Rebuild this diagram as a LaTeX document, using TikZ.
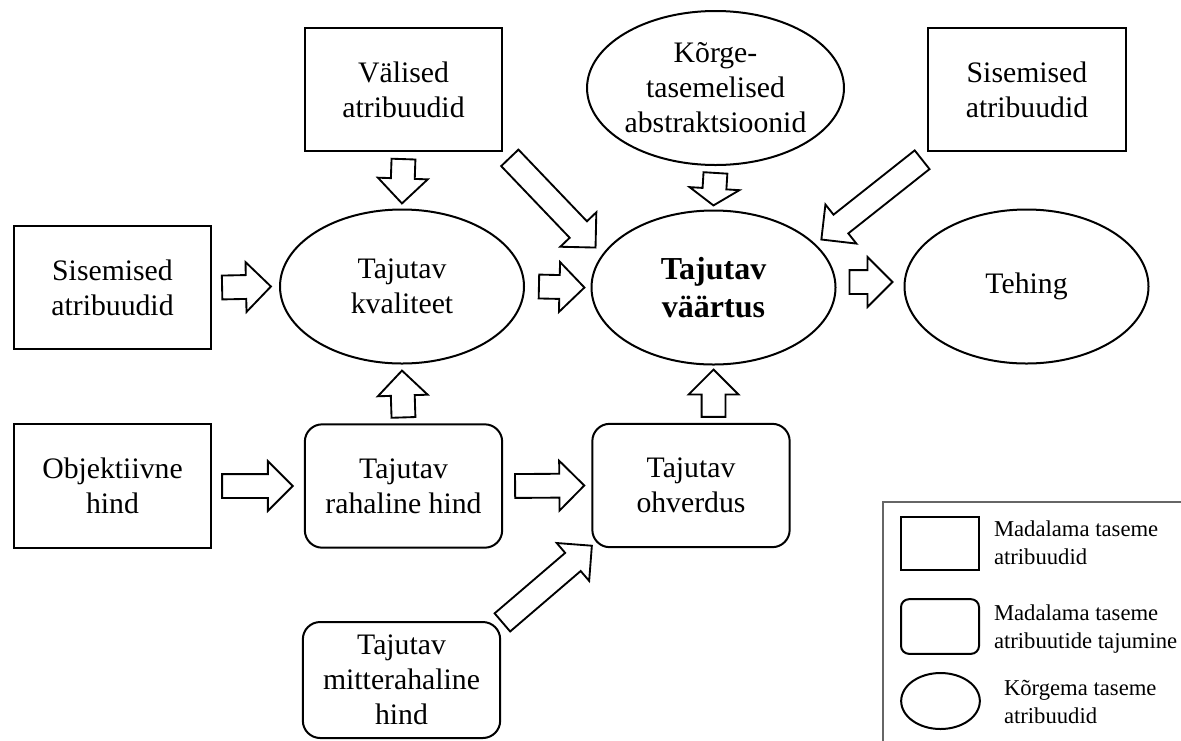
\documentclass[tikz,border=0pt]{standalone}
\usepackage{fontspec}
\setmainfont{Liberation Serif}
\usetikzlibrary{shapes.geometric,shapes.arrows,calc}

% hollow block arrow from #2 to #3
\newcommand\blk[3][]{%
	\path let \p1=(#2), \p2=(#3), \n1={atan2(\y2-\y1,\x2-\x1)}, \n2={veclen(\x2-\x1,\y2-\y1)} in
		node[blkarrow, rotate=\n1, minimum height=\n2, anchor=tail, #1] at (#2) {};}

\begin{document}
\begin{tikzpicture}[x=0.75pt, y=-0.75pt
	, every node/.style={
		align=center
		, font=\fontsize{22.3}{26.3}\selectfont
		, line width=1.5pt
	}
	, box/.style={draw, rectangle, minimum width=148pt, minimum height=92.5pt}
	, rbox/.style={box, rounded corners=13pt}
	, oval/.style={draw, ellipse, inner sep=0pt, minimum width=183pt, minimum height=115.5pt}
	, blkarrow/.style={draw, single arrow, line width=1.4pt
		, inner xsep=0pt, inner ysep=8.25pt, minimum width=36pt
		, single arrow head extend=9.75pt, single arrow tip angle=90}
	, flat/.style={single arrow tip angle=112}
	, key/.style={font=\fontsize{17}{21}\selectfont, align=left, anchor=west, inner sep=0pt}
]
\useasboundingbox (0,0) rectangle (1181,740);

\foreach \name/\px/\py/\lineA/\lineB in {
	valised/403.5/89.5/Välised/atribuudid
	, sisL/112.5/287.5/Sisemised/atribuudid
	, sisR/1027/89.5/Sisemised/atribuudid
	, objekt/112.5/486/Objektiivne/hind
}{
	\node[box] (\name) at (\px,\py) {\lineA\\\lineB};
}

\node[rbox] (rahal) at (403.5,486) {Tajutav\\rahaline hind};
\node[rbox] (ohverd) at (691,485.5) {Tajutav\\ohverdus};
\node[rbox, minimum height=87pt] (mitte) at (401.5,680) {Tajutav\\mitterahaline\\hind};

\node[oval] (kval) at (402,286.5) {Tajutav\\kvaliteet};
\node[oval] (korge) at (715.5,88) {Kõrge-\\tasemelised\\abstraktsioonid};
\node[oval, font=\fontsize{24}{28.5}\selectfont\bfseries] (vaartus) at (713.5,287.5) {Tajutav\\väärtus};
\node[oval] (tehing) at (1026.5,286.5) {Tehing};

% block arrows
\blk{$(valised.south)+(0,6)$}{$(kval.north)+(0,-6)$}
\blk{$(sisL.east)+(9,0)$}{$(kval.west)+(-9,0)$}
\blk{$(kval.east)+(13,0)$}{$(vaartus.west)+(-7,0)$}
\blk[flat]{$(korge.south)+(0,6)$}{$(vaartus.north)+(0,-5)$}
\blk{$(valised.south east)+(6,5)$}{$(vaartus.center)+(-118.5,-40.5)$}
\blk{$(sisR.south west)+(-4.5,7)$}{$(vaartus.center)+(108.5,-48.5)$}
\blk{$(vaartus.east)+(12,-5.5)$}{$(tehing.west)+(-12,-4.5)$}
\blk{$(objekt.east)+(9,0)$}{$(rahal.west)+(-12,0)$}
\blk{$(rahal.north)+(0,-5)$}{$(kval.south)+(0,7)$}
\blk{$(rahal.east)+(11,0)$}{$(ohverd.west)+(-8,0)$}
\blk{$(vaartus.south |- ohverd.north)+(0,-5)$}{$(vaartus.south)+(0,5)$}
\blk{$(mitte.north east)+(0.5,2)$}{$(ohverd.south west)+(0,-2)$}

% legend
\draw[gray!80!black, line width=0.8pt] (883,502) rectangle (1190,750);
\node[box, minimum width=58.5pt, minimum height=40pt] (kRect) at (940,543.5) {};
\node[rbox, rounded corners=6pt, minimum width=58.5pt, minimum height=41pt] (kRbox) at (940,626.5) {};
\node[oval, minimum width=59pt, minimum height=42pt] (kOval) at (940.5,701) {};
\node[key] (tRect) at (993,543) {Madalama taseme\\atribuudid};
\node[key] (tRbox) at (993,629) {Madalama taseme\\atribuutide tajumine};
\node[key] (tOval) at (1003,702) {Kõrgema taseme\\atribuudid};

\end{tikzpicture}
\end{document}
